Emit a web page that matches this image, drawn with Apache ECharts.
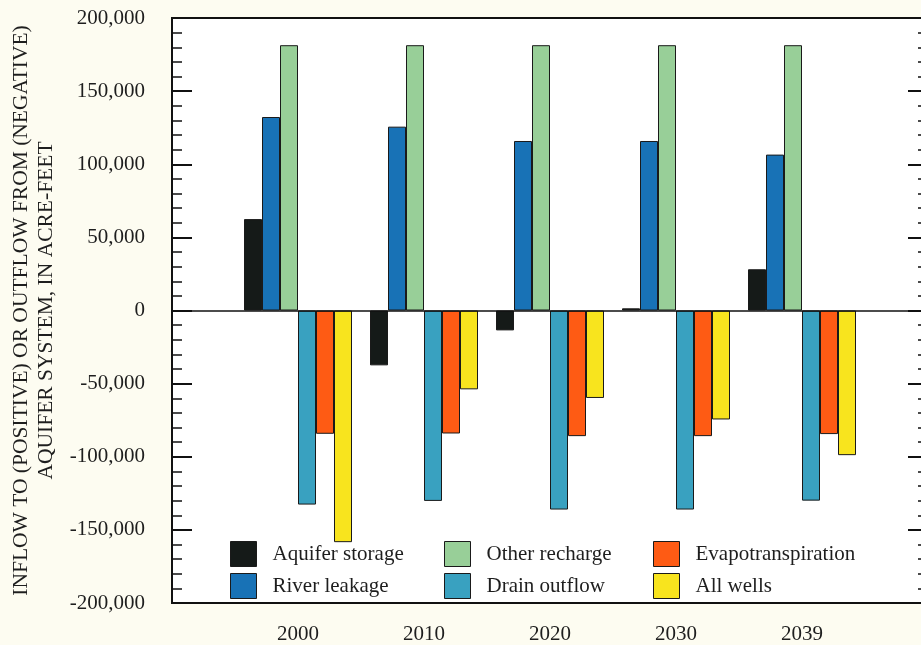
<!DOCTYPE html>
<html><head><meta charset="utf-8">
<script src="https://cdn.jsdelivr.net/npm/echarts@6/dist/echarts.min.js"></script>
<style>html,body{margin:0;padding:0;background:#fdfcf1}#c{width:921px;height:645px}</style>
</head><body><div id="c"></div>
<script>
const years = ['2000', '2010', '2020', '2030', '2039'];
const aquiferStorage = [62500, -37500, -13600, 1500, 28200];
const riverLeakage = [132300, 125700, 115900, 115900, 106600];
const otherRecharge = [181400, 181400, 181400, 181400, 181400];
const drainOutflow = [-132700, -130200, -136100, -136100, -130000];
const evapotranspiration = [-84300, -84100, -85900, -85900, -84500];
const allWells = [-158400, -53900, -59800, -74500, -98900];
const yMin = -200000, yMax = 200000, yStep = 50000;

const FONT = 'Liberation Serif';
const TXT = '#1e1e1e';
const cats = [''].concat(years, ['']);
const pad = a => ['-'].concat(a, ['-']);

const seriesDefs = [
  ['Aquifer storage', aquiferStorage, '#151a18'],
  ['River leakage', riverLeakage, '#1872b6'],
  ['Other recharge', otherRecharge, '#98cf98'],
  ['Drain outflow', drainOutflow, '#39a1c0'],
  ['Evapotranspiration', evapotranspiration, '#fe5b14'],
  ['All wells', allWells, '#f8e41e']
];

const series = seriesDefs.map((d, i) => {
  const s = {
    name: d[0], type: 'bar', data: pad(d[1]),
    barWidth: 18, barGap: '0%',
    itemStyle: { color: d[2], borderColor: '#1a1a1a', borderWidth: 1 },
    emphasis: { disabled: true }
  };
  if (i === 0) {
    s.markLine = {
      silent: true, symbol: 'none', label: { show: false },
      lineStyle: { color: '#111', width: 1.5, type: 'solid' },
      data: [{ yAxis: 0 }]
    };
  }
  return s;
});

function leg(names, left) {
  return {
    data: names, orient: 'vertical', left: left, top: 541, padding: 0,
    itemWidth: 26, itemHeight: 25, itemGap: 6, selectedMode: false,
    icon: 'rect',
    itemStyle: { borderColor: '#1a1a1a', borderWidth: 1 },
    textStyle: { fontFamily: FONT, fontSize: 21, color: TXT, padding: [0, 0, 0, 11] }
  };
}

const yTickCommon = {
  type: 'value', min: yMin, max: yMax, interval: yStep,
  splitLine: { show: false },
  axisLine: { show: false },
  axisTick: { show: true, inside: true, length: 20, lineStyle: { color: '#111', width: 2 } },
  minorTick: { show: true, splitNumber: 5, length: 10, lineStyle: { color: '#111', width: 1.5 } }
};

const option = {
  backgroundColor: '#fdfcf1',
  animation: false,
  grid: { left: 172, right: -7, top: 18, bottom: 42, outerBoundsMode: 'none', containLabel: false,
    show: true, backgroundColor: '#ffffff', borderColor: '#111', borderWidth: 2 },
  legend: [
    leg(['Aquifer storage', 'River leakage'], 230),
    leg(['Other recharge', 'Drain outflow'], 444),
    leg(['Evapotranspiration', 'All wells'], 653)
  ],
  xAxis: {
    type: 'category', data: cats, boundaryGap: false,
    axisLine: { show: false, onZero: false },
    axisTick: { show: false },
    axisLabel: { interval: 0, margin: 21, fontFamily: FONT, fontSize: 21, color: TXT }
  },
  yAxis: [
    Object.assign({}, yTickCommon, {
      position: 'left',
      name: 'INFLOW TO (POSITIVE) OR OUTFLOW FROM (NEGATIVE)\nAQUIFER SYSTEM, IN ACRE-FEET',
      nameLocation: 'middle', nameRotate: 90, nameGap: 112,
      nameTextStyle: { fontFamily: FONT, fontSize: 21.5, lineHeight: 25, color: TXT, align: 'center' },
      axisLabel: { margin: 27, fontFamily: FONT, fontSize: 21, color: TXT,
        formatter: v => v.toLocaleString('en-US') }
    }),
    Object.assign({}, yTickCommon, { position: 'right', axisLabel: { show: false } })
  ],
  series: series
};

const chart = echarts.init(document.getElementById('c'), null, { renderer: 'canvas' });
chart.setOption(option);
</script></body></html>
